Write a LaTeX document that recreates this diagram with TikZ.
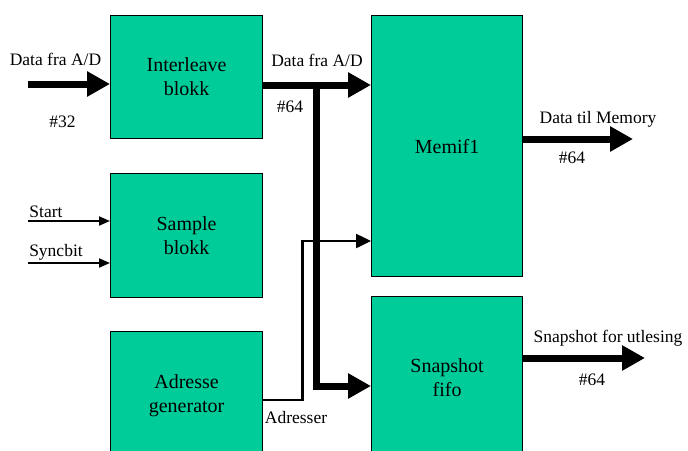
\documentclass[tikz,border=0pt]{standalone}
\usepackage{fontspec}
\setmainfont{Liberation Serif}
\usetikzlibrary{arrows.meta}
\definecolor{boxgreen}{RGB}{0,204,153}
\begin{document}
\begin{tikzpicture}[x=1pt,y=-1pt,
  blk/.style={draw=black,line width=1.2pt,fill=boxgreen,inner sep=0pt,anchor=north west,
    align=center,font=\fontsize{20}{24}\selectfont},
  lbl/.style={font=\fontsize{17.5}{21}\selectfont,inner sep=0pt,anchor=base},
  bus/.style={line width=7pt,-{Triangle[length=23pt,width=24pt]}},
  sig/.style={line width=2pt,-{Triangle[length=11pt,width=9pt]}},
  adr/.style={line width=2.5pt,-{Triangle[length=15pt,width=14pt]}}]
\useasboundingbox (0,0) rectangle (688,450);
\clip (0,0) rectangle (688,450);
% blocks
\node[blk,minimum width=152pt,minimum height=123pt] (inter) at (110,15) {Interleave\\blokk};
\node[blk,minimum width=152pt,minimum height=124pt] (sample) at (110,173) {Sample\\blokk};
\node[blk,minimum width=152pt,minimum height=128pt] (adr) at (110,331) {Adresse\\generator};
\node[blk,minimum width=151pt,minimum height=261pt] (mem) at (371,15) {Memif1};
\node[blk,minimum width=151pt,minimum height=162pt] (snap) at (371,296) {Snapshot\\fifo};
% coordinates
\coordinate (in1) at (28,84);
\coordinate (st) at (28,221);
\coordinate (sy) at (28,263);
\coordinate (j) at (316.5,85);
\coordinate (jb) at (316.5,386);
\coordinate (a1) at (302.5,400);
\coordinate (a2) at (302.5,241);
\coordinate (o1) at (633,139);
\coordinate (o2) at (645,358);
% connectors
\draw[bus] (in1) -- (in1 -| inter.west);
\draw[sig] (st) -- (st -| sample.west);
\draw[sig] (sy) -- (sy -| sample.west);
\draw[adr] (a1 -| adr.east) -- (a1) -- (a2) -- (a2 -| mem.west);
\draw[bus] (j -| inter.east) -- (j -| mem.west);
\draw[bus] (j) -- (jb) -- (jb -| snap.west);
\draw[bus] (o1 -| mem.east) -- (o1);
\draw[bus] (o2 -| snap.east) -- (o2);
% labels
\node[lbl] (l1) at (55.5,65) {Data fra A/D};
\node[lbl] (l2) at (62.5,127) {\#32};
\node[lbl] (l3) at (317,66) {Data fra A/D};
\node[lbl] (l4) at (290,112) {\#64};
\node[lbl] (l5) at (46,217) {Start};
\node[lbl] (l6) at (56,256) {Syncbit};
\node[lbl] (l7) at (598,123) {Data til Memory};
\node[lbl] (l8) at (572,163) {\#64};
\node[lbl] (l9) at (608,342) {Snapshot for utlesing};
\node[lbl] (l10) at (592,385) {\#64};
\node[lbl] (l11) at (296,423) {Adresser};
\end{tikzpicture}
\end{document}
